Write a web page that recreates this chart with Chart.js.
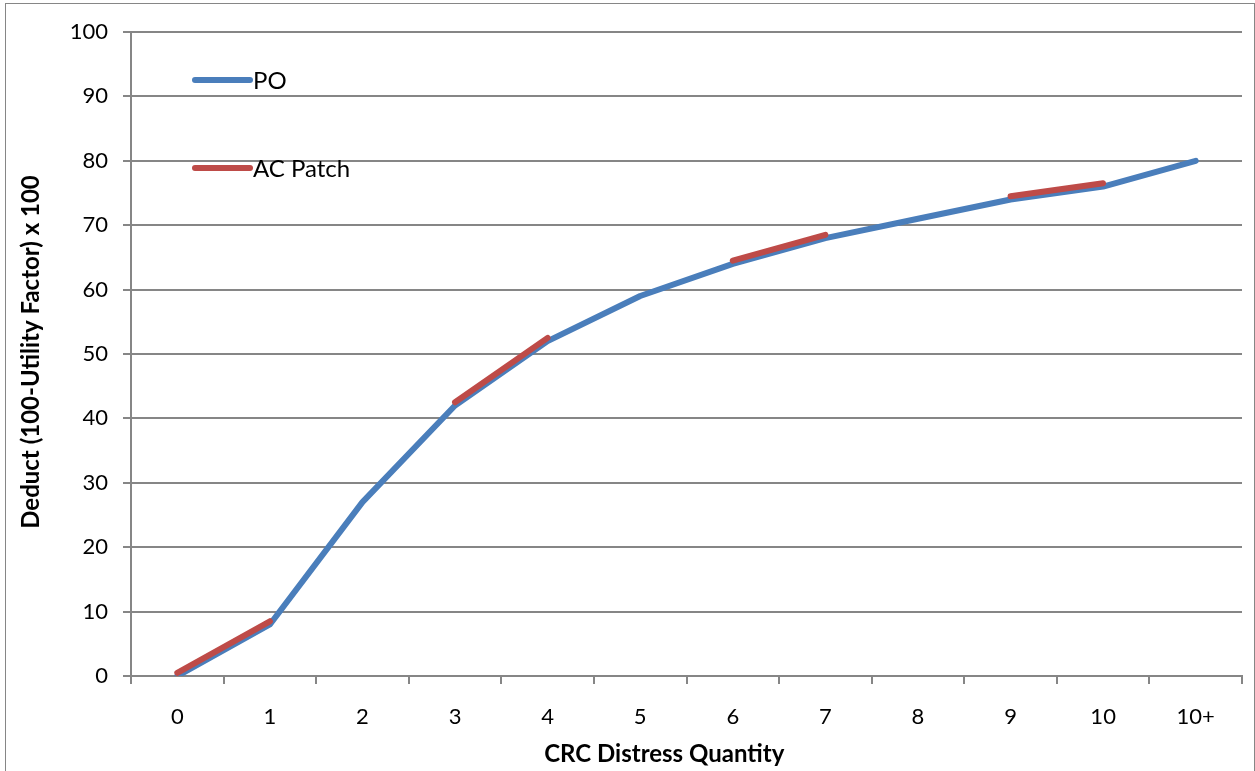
<!DOCTYPE html>
<html>
<head>
<meta charset="utf-8">
<script src="https://cdn.jsdelivr.net/npm/chart.js@4.4.1/dist/chart.umd.min.js"></script>
<style>
  html, body { margin: 0; padding: 0; background: #fff; }
  #wrap { width: 1255px; height: 771px; }
</style>
</head>
<body>
<div id="wrap"><canvas id="grafico" width="1255" height="771"></canvas></div>
<script>
// categorie e valori
const categorie = ["0", "1", "2", "3", "4", "5", "6", "7", "8", "9", "10", "10+"];
const valoriPO = [0, 8, 27, 42, 52, 59, 64, 68, 71, 74, 76, 80];
const valoriACPatch = [0.5, 8.5, null, 42.5, 52.5, null, 64.5, 68.5, null, 74.5, 76.5, null];
const tickY = [0, 10, 20, 30, 40, 50, 60, 70, 80, 90, 100];
const titoloX = "CRC Distress Quantity";
const titoloY = "Deduct (100-Utility Factor) x 100";

const font = "Lato";
const grigio = "#868686";

// legenda dentro l'area del grafico, in alto a sinistra
const legendaInterna = {
  id: "legendaInterna",
  afterDatasetsDraw(chart) {
    const ctx = chart.ctx;
    const area = chart.chartArea;
    const x0 = area.left + 64;
    const righe = [area.top + 48, area.top + 136];
    chart.data.datasets.forEach((ds, i) => {
      const y = righe[i];
      ctx.save();
      ctx.strokeStyle = ds.borderColor;
      ctx.lineWidth = 6;
      ctx.lineCap = "round";
      ctx.beginPath();
      ctx.moveTo(x0, y);
      ctx.lineTo(x0 + 55, y);
      ctx.stroke();
      ctx.fillStyle = "#000";
      ctx.font = "24px " + font;
      ctx.textBaseline = "middle";
      ctx.fillText(ds.label, x0 + 58, y + 1);
      ctx.restore();
    });
  }
};

// titoli degli assi
const titoliAssi = {
  id: "titoliAssi",
  afterDraw(chart) {
    const ctx = chart.ctx;
    const area = chart.chartArea;
    ctx.save();
    ctx.fillStyle = "#000";
    ctx.font = "bold 24px " + font;
    ctx.textAlign = "center";
    ctx.textBaseline = "middle";
    ctx.fillText(titoloX, area.left + (area.right - area.left) * 0.48, chart.height - 17);
    ctx.translate(31, (area.top + area.bottom) / 2 - 2);
    ctx.rotate(-Math.PI / 2);
    ctx.fillText(titoloY, 0, 0);
    ctx.restore();
  }
};

// bordo esterno grigio
const bordo = {
  id: "bordo",
  beforeDraw(chart) {
    const ctx = chart.ctx;
    ctx.save();
    ctx.strokeStyle = grigio;
    ctx.lineWidth = 1;
    ctx.strokeRect(5.5, 3.5, chart.width - 6, chart.height + 5);
    ctx.restore();
  }
};

const ctx = document.getElementById("grafico").getContext("2d");
new Chart(ctx, {
  type: "line",
  data: {
    labels: categorie,
    datasets: [
      {
        label: "PO",
        data: valoriPO,
        borderColor: "#4A7EBB",
        borderWidth: 6,
        borderCapStyle: "round",
        borderJoinStyle: "round",
        pointRadius: 0,
        tension: 0,
        order: 2
      },
      {
        label: "AC Patch",
        data: valoriACPatch,
        borderColor: "#BE4B48",
        borderWidth: 6,
        borderCapStyle: "round",
        borderJoinStyle: "round",
        pointRadius: 0,
        tension: 0,
        spanGaps: false,
        order: 1
      }
    ]
  },
  options: {
    responsive: false,
    animation: false,
    layout: { padding: { left: 15, top: 32, right: 13, bottom: 0 } },
    plugins: {
      legend: { display: false },
      tooltip: { enabled: false }
    },
    scales: {
      x: {
        offset: true,
        grid: {
          offset: true,
          drawOnChartArea: false,
          drawTicks: true,
          tickLength: 8,
          color: grigio,
          lineWidth: 2
        },
        border: { color: grigio, width: 2 },
        ticks: { color: "#000", font: { family: font, size: 22 }, padding: 20, maxRotation: 0 },
        afterFit(scale) { scale.height = 95; }
      },
      y: {
        min: 0,
        max: 100,
        afterBuildTicks(scale) { scale.ticks = tickY.map((v) => ({ value: v })); },
        grid: { color: grigio, lineWidth: 2, tickLength: 8 },
        border: { color: grigio, width: 2 },
        ticks: { color: "#000", font: { family: font, size: 22 }, padding: 15 },
        afterFit(scale) { scale.width = 116; }
      }
    }
  },
  plugins: [bordo, legendaInterna, titoliAssi]
});
</script>
</body>
</html>
